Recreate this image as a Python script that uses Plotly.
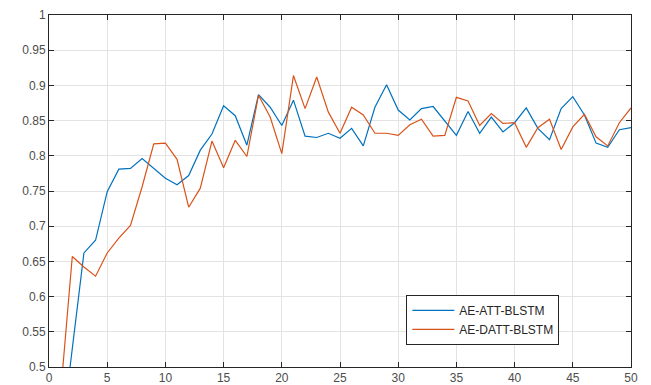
import plotly.graph_objects as go

epochs = list(range(1, 51))
ae_att_blstm = [0.39, 0.53, 0.662, 0.680, 0.749, 0.781, 0.782, 0.796, 0.782, 0.768,
                0.759, 0.772, 0.808, 0.831, 0.871, 0.857, 0.815, 0.887, 0.869, 0.843,
                0.879, 0.828, 0.826, 0.832, 0.825, 0.839, 0.814, 0.869, 0.901, 0.865,
                0.851, 0.867, 0.870, 0.849, 0.829, 0.863, 0.832, 0.855, 0.834, 0.847,
                0.868, 0.839, 0.823, 0.867, 0.884, 0.858, 0.818, 0.812, 0.837, 0.840]
ae_datt_blstm = [0.463, 0.657, 0.642, 0.629, 0.662, 0.683, 0.701, 0.756, 0.817, 0.818,
                 0.795, 0.727, 0.754, 0.821, 0.783, 0.822, 0.799, 0.886, 0.855, 0.803,
                 0.914, 0.867, 0.912, 0.862, 0.832, 0.869, 0.858, 0.832, 0.832, 0.829,
                 0.844, 0.852, 0.828, 0.829, 0.883, 0.878, 0.843, 0.860, 0.846, 0.847,
                 0.812, 0.840, 0.852, 0.809, 0.841, 0.859, 0.827, 0.814, 0.847, 0.868]
x_ticks = [0, 5, 10, 15, 20, 25, 30, 35, 40, 45, 50]
y_ticks = [0.5, 0.55, 0.6, 0.65, 0.7, 0.75, 0.8, 0.85, 0.9, 0.95, 1]
y_tick_text = ["0.5", "0.55", "0.6", "0.65", "0.7", "0.75", "0.8", "0.85", "0.9", "0.95", "1"]

fig = go.Figure()
fig.add_trace(go.Scatter(x=epochs, y=ae_att_blstm, mode="lines", name="AE-ATT-BLSTM",
                         line=dict(color="#0072BD", width=1.2)))
fig.add_trace(go.Scatter(x=epochs, y=ae_datt_blstm, mode="lines", name="AE-DATT-BLSTM",
                         line=dict(color="#D95319", width=1.2)))

axis_common = dict(showline=True, linecolor="#262626", linewidth=1, mirror="ticks",
                   ticks="inside", ticklen=5, tickcolor="#262626", tickwidth=1,
                   showgrid=True, gridcolor="#e3e3e3", gridwidth=1, zeroline=False,
                   automargin=False,
                   tickfont=dict(family="Liberation Sans, Arial, sans-serif", size=12, color="#4d4d4d"))

fig.update_xaxes(range=[0, 50], tickvals=x_ticks, **axis_common)
fig.update_yaxes(range=[0.5, 1], tickvals=y_ticks, ticktext=y_tick_text, **axis_common)

fig.update_layout(
    width=643, height=377,
    margin=dict(l=40.5, r=20, t=6.5, b=17.7, autoexpand=False),
    plot_bgcolor="white", paper_bgcolor="white",
    showlegend=True,
    legend=dict(x=0.614, y=0.205, xanchor="left", yanchor="top",
                bgcolor="white", bordercolor="#262626", borderwidth=1,
                font=dict(family="Liberation Sans, Arial, sans-serif", size=12, color="#262626"),
                tracegroupgap=0, itemwidth=42),
)

fig.write_html("out.html")
